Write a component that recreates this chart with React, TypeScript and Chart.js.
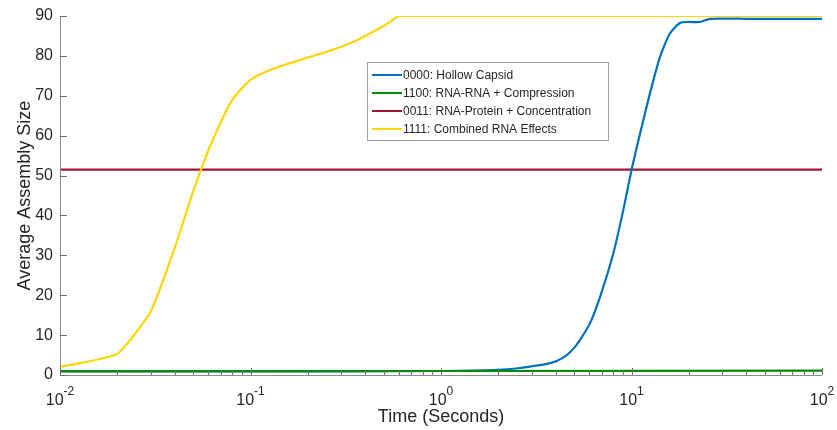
import React, { useEffect, useRef } from "react";
import { Chart, registerables } from "chart.js";

Chart.register(...registerables);

// ---------- data ----------
const seriesLabels = [
  "0000: Hollow Capsid",
  "1100: RNA-RNA + Compression",
  "0011: RNA-Protein + Concentration",
  "1111: Combined RNA Effects",
];
const seriesColors = ["#0072BD", "#0A8A0A", "#A2142F", "#FFD400"];
const seriesOrder = [2, 1, 3, 0];
const seriesTension = [0.2, 0, 0, 0.15];

const hollowT = [0.01, 0.1, 1, 2, 2.6, 3.05, 3.6, 4.05, 4.57, 5.0, 5.37, 6.06, 6.84, 8.03, 9.06, 10, 11.1, 12.5, 14.1, 15.9, 18, 20, 22.9, 25.8, 40, 100];
const hollowY = [0.9, 0.9, 1.0, 1.3, 1.75, 2.25, 2.8, 3.5, 5.0, 6.8, 8.8, 13, 19.6, 30.5, 41.4, 51.4, 60.6, 70.6, 79.7, 85.6, 88.3, 88.5, 88.5, 89.3, 89.3, 89.3];

const rnaRnaT = [0.01, 0.1, 1, 10, 100];
const rnaRnaY = [0.95, 0.95, 1.0, 1.05, 1.1];

const rnaProteinT = [0.01, 100];
const rnaProteinY = [51.5, 51.5];

const combinedT = [0.01, 0.02, 0.03, 0.04, 0.05, 0.06, 0.07, 0.08, 0.09, 0.1, 0.12, 0.15, 0.2, 0.25, 0.3, 0.35, 0.4, 0.45, 0.5, 0.55, 0.6, 1, 10, 100];
const combinedY = [2, 5.3, 16, 31.8, 46, 56.2, 63.5, 68.9, 71.8, 74, 76, 77.7, 79.6, 81, 82.3, 83.6, 85, 86.3, 87.5, 88.8, 90, 90, 90, 90];

const xTickBase = "10";
const xTickExponents: Record<number, string> = {
  0.01: "-2",
  0.1: "-1",
  1: "0",
  10: "1",
  100: "2",
};
const yTicks = [0, 10, 20, 30, 40, 50, 60, 70, 80, 90];

const FONT = "'Liberation Sans', Arial, Helvetica, sans-serif";

const pts = (t: number[], y: number[]) => t.map((x, i) => ({ x, y: y[i] }));

const isPow10 = (v: number) => {
  const l = Math.log10(v);
  return Math.abs(l - Math.round(l)) < 1e-9;
};

const expFor = (v: number): string | null => {
  for (const k of Object.keys(xTickExponents)) {
    if (Math.abs(Number(k) - v) / v < 1e-6) return xTickExponents[Number(k)];
  }
  return null;
};

const axesPlugin = {
  id: "matlabAxes",
  afterDatasetsDraw(chart: any) {
    const { ctx, chartArea, scales } = chart;
    const xs = scales.x;
    const ys = scales.y;
    ctx.save();
    // axis lines
    ctx.strokeStyle = "#8c8c8c";
    ctx.lineWidth = 1;
    ctx.beginPath();
    ctx.moveTo(chartArea.left + 0.5, chartArea.top);
    ctx.lineTo(chartArea.left + 0.5, chartArea.bottom + 0.5);
    ctx.lineTo(chartArea.right, chartArea.bottom + 0.5);
    ctx.stroke();
    // x ticks (inward)
    ctx.strokeStyle = "#707070";
    ctx.beginPath();
    xs.ticks.forEach((t: any) => {
      const px = Math.round(xs.getPixelForValue(t.value)) + 0.5;
      const len = isPow10(t.value) ? 7 : 4;
      ctx.moveTo(px, chartArea.bottom);
      ctx.lineTo(px, chartArea.bottom - len);
    });
    // y ticks (inward)
    ys.ticks.forEach((t: any) => {
      const py = Math.round(ys.getPixelForValue(t.value)) + 0.5;
      ctx.moveTo(chartArea.left, py);
      ctx.lineTo(chartArea.left + 7, py);
    });
    ctx.stroke();

    // x tick labels with superscript exponents
    ctx.fillStyle = "#262626";
    ctx.textBaseline = "alphabetic";
    ctx.textAlign = "left";
    xs.ticks.forEach((t: any) => {
      const e = expFor(t.value);
      if (e === null) return;
      const px = xs.getPixelForValue(t.value);
      ctx.font = `16px ${FONT}`;
      const wb = ctx.measureText(xTickBase).width;
      ctx.font = `12px ${FONT}`;
      const we = ctx.measureText(e).width;
      const x0 = px - (wb + we) / 2;
      const base = chartArea.bottom + 30;
      ctx.font = `16px ${FONT}`;
      ctx.fillText(xTickBase, x0, base);
      ctx.font = `12px ${FONT}`;
      ctx.fillText(e, x0 + wb, base - 10);
    });

    // legend
    const lx = 367;
    const ly = 62;
    const lw = 241;
    const lh = 78;
    ctx.fillStyle = "#ffffff";
    ctx.fillRect(lx, ly, lw, lh);
    ctx.strokeStyle = "#a0a0a0";
    ctx.lineWidth = 1;
    ctx.strokeRect(lx + 0.5, ly + 0.5, lw, lh);
    ctx.font = `12px ${FONT}`;
    ctx.textBaseline = "middle";
    ctx.textAlign = "left";
    chart.data.datasets.forEach((ds: any, i: number) => {
      const cy = 75 + i * 18;
      ctx.strokeStyle = ds.borderColor;
      ctx.lineWidth = 2;
      ctx.beginPath();
      ctx.moveTo(lx + 5, cy);
      ctx.lineTo(lx + 35, cy);
      ctx.stroke();
      ctx.fillStyle = "#262626";
      ctx.fillText(ds.label, lx + 36, cy + 0.5);
    });
    ctx.restore();
  },
};

export default function App() {
  const ref = useRef<HTMLCanvasElement | null>(null);
  useEffect(() => {
    if (!ref.current) return;
    const chart = new Chart(ref.current, {
      type: "line",
      data: {
        datasets: [
          { label: seriesLabels[0], data: pts(hollowT, hollowY) },
          { label: seriesLabels[1], data: pts(rnaRnaT, rnaRnaY) },
          { label: seriesLabels[2], data: pts(rnaProteinT, rnaProteinY) },
          { label: seriesLabels[3], data: pts(combinedT, combinedY) },
        ].map((d, i) => ({
          ...d,
          borderColor: seriesColors[i],
          backgroundColor: seriesColors[i],
          borderWidth: 2.2,
          pointRadius: 0,
          order: seriesOrder[i],
          tension: seriesTension[i],
          fill: false,
        })),
      },
      options: {
        animation: false,
        responsive: false,
        maintainAspectRatio: false,
        layout: { padding: { top: 16, right: 15, left: 0, bottom: 0 } },
        plugins: {
          legend: { display: false },
          tooltip: { enabled: false },
        },
        scales: {
          x: {
            type: "logarithmic",
            min: 0.01,
            max: 100,
            border: { display: false },
            grid: { display: false, drawTicks: false },
            afterFit: (s: any) => {
              s.height = 55;
              s.paddingLeft = 0;
              s.paddingRight = 0;
            },
            afterBuildTicks: (s: any) => {
              const out: any[] = [];
              for (let e = -2; e < 2; e++) {
                for (let m = 1; m < 10; m++) {
                  out.push({ value: m * Math.pow(10, e) });
                }
              }
              out.push({ value: 100 });
              s.ticks = out;
            },
            ticks: {
              display: false,
              autoSkip: false,
              maxRotation: 0,
            },
            title: {
              display: true,
              text: "Time (Seconds)",
              color: "#262626",
              font: { family: FONT, size: 18 },
              padding: { top: 0, bottom: 2 },
            },
          },
          y: {
            min: 0,
            max: 90,
            border: { display: false },
            grid: { display: false, drawTicks: false },
            afterFit: (s: any) => {
              s.width = 60;
              s.paddingTop = 0;
              s.paddingBottom = 0;
            },
            afterBuildTicks: (s: any) => {
              s.ticks = yTicks.map((v) => ({ value: v }));
            },
            ticks: {
              padding: 7,
              color: "#262626",
              font: { family: FONT, size: 16 },
            },
            title: {
              display: true,
              text: "Average Assembly Size",
              color: "#262626",
              font: { family: FONT, size: 18 },
              padding: { top: 14, bottom: 0 },
            },
          },
        },
      },
      plugins: [axesPlugin],
    });
    return () => chart.destroy();
  }, []);
  return (
    <div style={{ position: "fixed", left: 0, top: 0, width: 837, height: 430, background: "#fff" }}>
      <canvas ref={ref} width={837} height={430} style={{ width: 837, height: 430 }} />
    </div>
  );
}
